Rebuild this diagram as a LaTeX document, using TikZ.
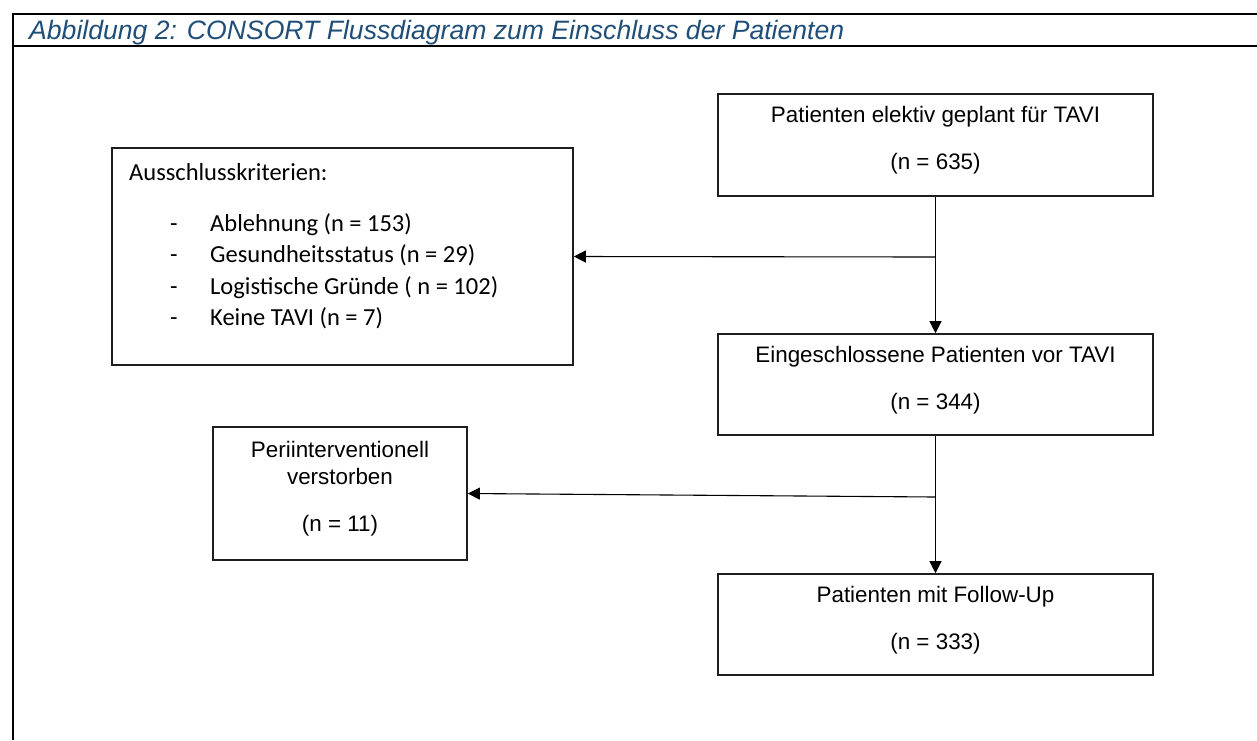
\documentclass[tikz,border=0pt]{standalone}
\usepackage{fontspec}
\setmainfont{Liberation Sans}
\newfontfamily\calibrifont{Carlito}
\usetikzlibrary{arrows.meta,positioning}
\definecolor{titelblau}{HTML}{1F4E79}
\definecolor{rand}{HTML}{1E1E1E}
\tikzset{
  box/.style={draw=rand,line width=1.6pt,rectangle,inner sep=0pt,
    align=center,text depth=14pt,font=\fontsize{22.4}{27}\selectfont},
  breit/.style={minimum width=435pt,minimum height=101pt},
  pfeil/.style={line width=1.1pt,-{Triangle[width=12pt,length=12pt]}},
  rahmen/.style={line width=2.2pt},
  kriterium/.style={inner sep=0pt,anchor=base west,
    font=\calibrifont\fontsize{24.5}{30}\selectfont}
}

\begin{document}
\begin{tikzpicture}[x=1pt,y=-1pt]
  \useasboundingbox (0,0) rectangle (1257,740);
  % Rahmen und Titel
  \draw[rahmen] (12.7,740) -- (12.7,14) -- (1257,14);
  \draw[rahmen] (12.7,45.7) -- (1257,45.7);
  \node[anchor=base west,inner sep=0pt,text=titelblau,
    font=\itshape\fontsize{26.6}{30}\selectfont] (titel) at (29,39.5)
    {Abbildung 2: CONSORT Flussdiagram zum Einschluss der Patienten};

  % Hauptstrang
  \node[box,breit,minimum height=102pt] (geplant) at (935.5,145)
    {Patienten elektiv geplant für TAVI\\[20pt](n = 635)};
  \node[box,breit] (eingeschlossen) at (935.5,384.5)
    {Eingeschlossene Patienten vor TAVI\\[20pt](n = 344)};
  \node[box,breit] (followup) at (935.5,624.5)
    {Patienten mit Follow-Up\\[20pt](n = 333)};

  % Seitenboxen
  \node[box,minimum width=461pt,minimum height=217pt] (ausschluss)
    at (342.5,256.5) {};
  \node[box,minimum width=254pt,minimum height=133pt] (verstorben)
    at (340,493.5) {Periinterventionell\\verstorben\\[20pt](n = 11)};

  \node[kriterium] (kopf) at (129,180) {Ausschlusskriterien:};
  \foreach \txt [count=\i] in {Ablehnung (n = 153),Gesundheitsstatus (n = 29),
      Logistische Gründe ( n = 102),Keine TAVI (n = 7)}{
    \node[kriterium] (strich\i) at (170,{231+31.5*(\i-1)}) {-};
    \node[kriterium] (punkt\i) at (210,{231+31.5*(\i-1)}) {\txt};
  }

  % Verbindungen
  \coordinate (abzweig1) at (935.5,257);
  \coordinate (abzweig2) at (935.5,497);
  \draw[pfeil] (geplant.south) -- (eingeschlossen.north);
  \draw[pfeil] (abzweig1) -- (ausschluss.east);
  \draw[pfeil] (eingeschlossen.south) -- (followup.north);
  \draw[pfeil] (abzweig2) -- (verstorben.east);
\end{tikzpicture}
\end{document}
